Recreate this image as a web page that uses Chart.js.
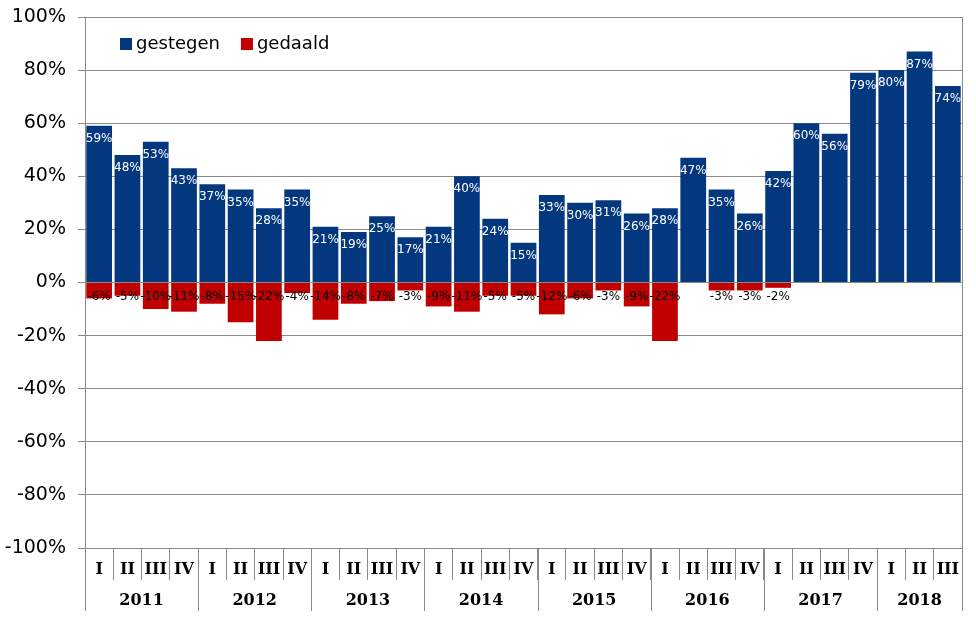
<!DOCTYPE html>
<html>
<head>
<meta charset="utf-8">
<script src="https://cdn.jsdelivr.net/npm/chart.js@4.4.0/dist/chart.umd.min.js"></script>
<style>
  html, body { margin: 0; padding: 0; background: #fff; }
  #wrap { width: 976px; height: 637px; }
</style>
</head>
<body>
<div id="wrap"><canvas id="chart"></canvas></div>
<script>
const years = ["2011", "2012", "2013", "2014", "2015", "2016", "2017", "2018"];
const quarters = [
  "I", "II", "III", "IV", "I", "II", "III", "IV", "I", "II", "III", "IV",
  "I", "II", "III", "IV", "I", "II", "III", "IV", "I", "II", "III", "IV",
  "I", "II", "III", "IV", "I", "II", "III"
];
const gestegen = [
  59, 48, 53, 43, 37, 35, 28, 35, 21, 19, 25, 17,
  21, 40, 24, 15, 33, 30, 31, 26, 28, 47, 35, 26,
  42, 60, 56, 79, 80, 87, 74
];
const gedaald = [
  -6, -5, -10, -11, -8, -15, -22, -4, -14, -8, -7, -3,
  -9, -11, -5, -5, -12, -6, -3, -9, -22, null, -3, -3,
  -2, null, null, null, null, null, null
];
const yTicks = [-100, -80, -60, -40, -20, 0, 20, 40, 60, 80, 100];

const BLUE = "#03387f";
const RED = "#c00000";
const GRID = "#8a8a8a";

// legend, bar labels, quarter/year axis labels
const extras = {
  id: "extras",
  afterDatasetsDraw(chart) {
    const ctx = chart.ctx;
    const y = chart.scales.y;
    const zero = y.getPixelForValue(0);
    ctx.save();
    ctx.font = "12px 'DejaVu Sans'";
    ctx.textAlign = "center";
    ctx.textBaseline = "middle";
    chart.getDatasetMeta(0).data.forEach((bar, i) => {
      ctx.fillStyle = "#ffffff";
      ctx.fillText(gestegen[i] + "%", bar.x, bar.y + 13);
    });
    chart.getDatasetMeta(1).data.forEach((bar, i) => {
      if (gedaald[i] === null) return;
      ctx.fillStyle = "#000000";
      ctx.fillText(gedaald[i] + "%", bar.x, zero + 14);
    });
    ctx.restore();
  },
  afterDraw(chart) {
    const ctx = chart.ctx;
    const area = chart.chartArea;
    const x = chart.scales.x;
    const step = x.getPixelForValue(1) - x.getPixelForValue(0);
    ctx.save();
    // frame
    ctx.strokeStyle = GRID;
    ctx.lineWidth = 1;
    ctx.strokeRect(Math.round(area.left) + 0.5, Math.round(area.top) + 0.5,
      Math.round(area.right - area.left), Math.round(area.bottom - area.top));
    // year separators
    for (let i = 0; i <= quarters.length; i += 4) {
      const idx = Math.min(i, quarters.length);
      const px = Math.round(x.getPixelForValue(0) - step / 2 + idx * step) + 0.5;
      ctx.beginPath();
      ctx.moveTo(px, area.bottom);
      ctx.lineTo(px, area.bottom + 63);
      ctx.stroke();
    }
    const rx = Math.round(area.right) + 0.5;
    ctx.beginPath();
    ctx.moveTo(rx, area.bottom);
    ctx.lineTo(rx, area.bottom + 63);
    ctx.stroke();
    // quarter labels
    ctx.fillStyle = "#000";
    ctx.font = "bold 16px 'DejaVu Serif'";
    ctx.textAlign = "center";
    ctx.textBaseline = "middle";
    quarters.forEach((q, i) => {
      ctx.fillText(q, x.getPixelForValue(i), area.bottom + 22);
    });
    years.forEach((yr, k) => {
      const first = k * 4;
      const last = Math.min(first + 3, quarters.length - 1);
      const cx = (x.getPixelForValue(first) + x.getPixelForValue(last)) / 2;
      ctx.fillText(yr, cx, area.bottom + 53);
    });
    // legend
    ctx.font = "18px 'DejaVu Sans'";
    ctx.textAlign = "left";
    let lx = 120;
    chart.data.datasets.forEach(ds => {
      ctx.fillStyle = ds.backgroundColor;
      ctx.fillRect(lx, 38, 12, 12);
      ctx.fillStyle = "#000";
      ctx.fillText(ds.label, lx + 16, 44);
      lx += 16 + ctx.measureText(ds.label).width + 21;
    });
    ctx.restore();
  }
};

new Chart(document.getElementById("chart"), {
  type: "bar",
  data: {
    labels: quarters,
    datasets: [
      { label: "gestegen", data: gestegen, backgroundColor: BLUE, barPercentage: 0.91, categoryPercentage: 1 },
      { label: "gedaald", data: gedaald, backgroundColor: RED, barPercentage: 0.91, categoryPercentage: 1 }
    ]
  },
  options: {
    responsive: true,
    maintainAspectRatio: false,
    animation: false,
    layout: { padding: { top: 17, right: 14, left: 0, bottom: 0 } },
    plugins: { legend: { display: false }, tooltip: { enabled: false } },
    scales: {
      x: {
        stacked: true,
        grid: { drawOnChartArea: false, offset: true, tickLength: 32, color: GRID },
        border: { color: GRID },
        ticks: { display: false },
        afterFit: s => { s.height = 89; s.paddingLeft = 0; s.paddingRight = 0; }
      },
      y: {
        stacked: true,
        min: -100,
        max: 100,
        afterBuildTicks: s => { s.ticks = yTicks.map(v => ({ value: v })); },
        ticks: {
          callback: v => v + "%",
          color: "#000",
          font: { family: "'DejaVu Sans'", size: 19 },
          padding: 12
        },
        grid: { color: GRID, tickLength: 7 },
        border: { color: GRID },
        afterFit: s => { s.width = 85; s.paddingTop = 0; s.paddingBottom = 0; }
      }
    }
  },
  plugins: [extras]
});
</script>
</body>
</html>
